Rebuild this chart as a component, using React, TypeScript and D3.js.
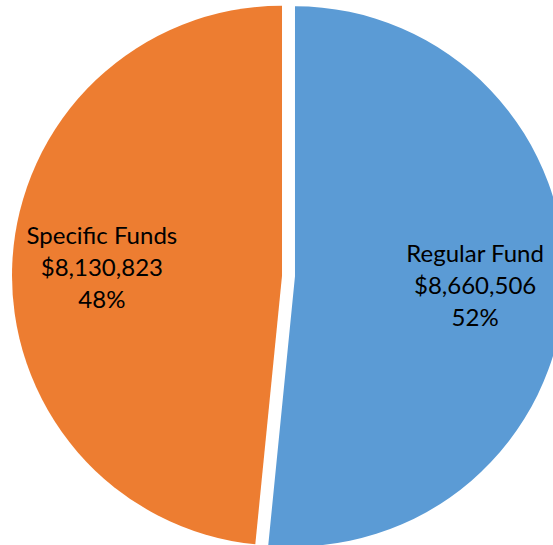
import React from "react";
import * as d3 from "d3";

const categories = ["Regular Fund", "Specific Funds"];
const values = [8660506, 8130823];
const colors = ["#5B9BD5", "#ED7D31"];

const W = 553;
const H = 545;
const R = 270;
const CX = 288.5;
const CY = 276;
const EXPLODE = 6.5;

export default function App() {
  const total = d3.sum(values);
  const pie = d3.pie<number>().sort(null).startAngle(0).endAngle(2 * Math.PI);
  const arcs = pie(values);
  const arc = d3.arc<d3.PieArcDatum<number>>().innerRadius(0).outerRadius(R);
  const labelArc = d3
    .arc<d3.PieArcDatum<number>>()
    .innerRadius(R * 0.668)
    .outerRadius(R * 0.668);
  const fmt = d3.format("$,");
  const pct = d3.format(".0%");
  const fontSize = 24;
  const lh = 32;
  return (
    <svg
      width={W}
      height={H}
      style={{ position: "absolute", left: 0, top: 0, background: "#fff" }}
    >
      <g transform={`translate(${CX},${CY})`}>
        {arcs.map((a, i) => {
          const mid = (a.startAngle + a.endAngle) / 2;
          const dx = Math.sin(mid) * EXPLODE;
          const dy = -Math.cos(mid) * EXPLODE;
          const [lx, ly] = labelArc.centroid(a);
          return (
            <g key={i} transform={`translate(${dx},${dy})`}>
              <path d={arc(a) || ""} fill={colors[i]} />
              <text
                x={lx}
                y={ly}
                textAnchor="middle"
                fontFamily="Lato, 'Open Sans', sans-serif"
                fontSize={fontSize}
                fill="#000"
              >
                <tspan x={lx} dy={-23}>{categories[i]}</tspan>
                <tspan x={lx} dy={lh}>{fmt(values[i])}</tspan>
                <tspan x={lx} dy={lh}>{pct(values[i] / total)}</tspan>
              </text>
            </g>
          );
        })}
      </g>
    </svg>
  );
}
